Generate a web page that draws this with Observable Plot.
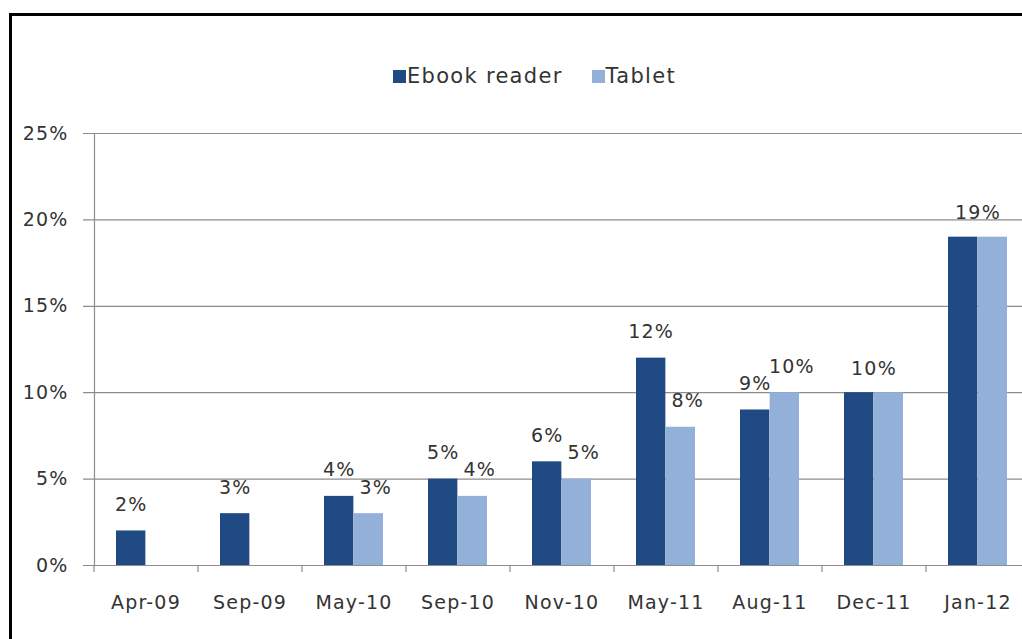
<!DOCTYPE html>
<html>
<head>
<meta charset="utf-8">
<script src="https://cdn.jsdelivr.net/npm/d3@7"></script>
<script src="https://cdn.jsdelivr.net/npm/@observablehq/plot@0.6"></script>
<style>
  html, body { margin: 0; padding: 0; background: #fff; }
  #wrap { position: relative; width: 1022px; height: 639px; overflow: hidden; background: #fff; }
  #frame { position: absolute; left: 9px; top: 13px; width: 1100px; height: 700px;
           border-left: 3px solid #000; border-top: 3px solid #000; pointer-events: none; }
  #chart { position: absolute; left: 0; top: 0; width: 1040px; }
  #legend { position: absolute; left: 393px; top: 64px; display: flex; align-items: center;
            font-family: "DejaVu Sans", sans-serif; font-size: 21px; letter-spacing: 1.3px; color: #333; }
  .sw { width: 13px; height: 13px; display: inline-block; margin-right: 1px; }
  .item { display: flex; align-items: center; }
</style>
</head>
<body>
<div id="wrap">
  <div id="chart"></div>
  <div id="legend"></div>
  <div id="frame"></div>
</div>
<script>
// ---- data ----
const categories = ["Apr-09", "Sep-09", "May-10", "Sep-10", "Nov-10", "May-11", "Aug-11", "Dec-11", "Jan-12"];
const ebook  = [2, 3, 4, 5, 6, 12, 9, 10, 19];
const tablet = [null, null, 3, 4, 5, 8, 10, 10, 19];
const seriesNames = ["Ebook reader", "Tablet"];
const seriesColors = ["#1f4a84", "#93b0d8"];
const yTicks = [0, 5, 10, 15, 20, 25];

// ---- layout ----
const W = 1040, H = 639, ML = 94, MR = 10, MT = 133, MB = 74;
const padIn = 0.43, padOut = padIn / 2;
const step = (W - ML - MR) / (categories.length - padIn + 2 * padOut);
const bw = step * (1 - padIn);

const ebookRows = categories.map((c, i) => ({period: c, value: ebook[i]})).filter(d => d.value != null);
const tabletRows = categories.map((c, i) => ({period: c, value: tablet[i]})).filter(d => d.value != null);

// labels: a single centred label when both series are equal
const sameRows = categories.map((c, i) => ({period: c, value: ebook[i], other: tablet[i]}))
  .filter(d => d.value != null && d.value === d.other);
const ebookLabelRows = categories.map((c, i) => ({period: c, value: ebook[i], other: tablet[i]}))
  .filter(d => d.value != null && d.value !== d.other);
const tabletLabelRows = categories.map((c, i) => ({period: c, value: tablet[i], other: ebook[i]}))
  .filter(d => d.value != null && d.value !== d.other);

const fmt = d => d + "%";
const textColor = "#333";
const gridColor = "#8c8c8c";
const fs = 19;

const plot = Plot.plot({
  width: W, height: H,
  marginLeft: ML, marginRight: MR, marginTop: MT, marginBottom: MB,
  style: {fontFamily: "DejaVu Sans, sans-serif", letterSpacing: "1.2px", background: "transparent",
          overflow: "visible", maxWidth: "none"},
  x: {type: "band", domain: categories, paddingInner: padIn, paddingOuter: padOut, label: null},
  y: {domain: [0, 25], label: null},
  marks: [
    Plot.gridY(yTicks, {stroke: gridColor, strokeOpacity: 1, strokeWidth: 1.2, insetLeft: -11}),
    Plot.frame({anchor: "left", stroke: gridColor, strokeWidth: 1.2}),
    Plot.axisY(yTicks, {tickSize: 0, tickPadding: 26, tickFormat: fmt, fontSize: fs, fill: textColor, label: null}),
    Plot.axisX({tickSize: 7, tickFormat: () => "", dx: -step / 2, stroke: gridColor, strokeWidth: 1.2, label: null}),
    Plot.axisX({tickSize: 0, tickPadding: 30, fontSize: fs, fill: textColor, label: null}),
    Plot.barY(ebookRows, {x: "period", y: "value", fill: seriesColors[0], insetRight: bw / 2}),
    Plot.barY(tabletRows, {x: "period", y: "value", fill: seriesColors[1], insetLeft: bw / 2}),
    Plot.text(ebookLabelRows, {x: "period", y: "value", text: d => fmt(d.value), dx: -bw / 4, dy: -26, fontSize: fs, fill: textColor}),
    Plot.text(tabletLabelRows, {x: "period", y: "value", text: d => fmt(d.value), dx: bw / 4 + 7, dy: -26, fontSize: fs, fill: textColor}),
    Plot.text(sameRows, {x: "period", y: "value", text: d => fmt(d.value), dy: -24, fontSize: fs, fill: textColor})
  ]
});
document.getElementById("chart").appendChild(plot);

// legend
const legend = document.getElementById("legend");
seriesNames.forEach((name, i) => {
  const item = document.createElement("span");
  item.className = "item";
  if (i > 0) item.style.marginLeft = "29px";
  const sw = document.createElement("span");
  sw.className = "sw";
  sw.style.background = seriesColors[i];
  item.appendChild(sw);
  item.appendChild(document.createTextNode(name));
  legend.appendChild(item);
});
</script>
</body>
</html>
